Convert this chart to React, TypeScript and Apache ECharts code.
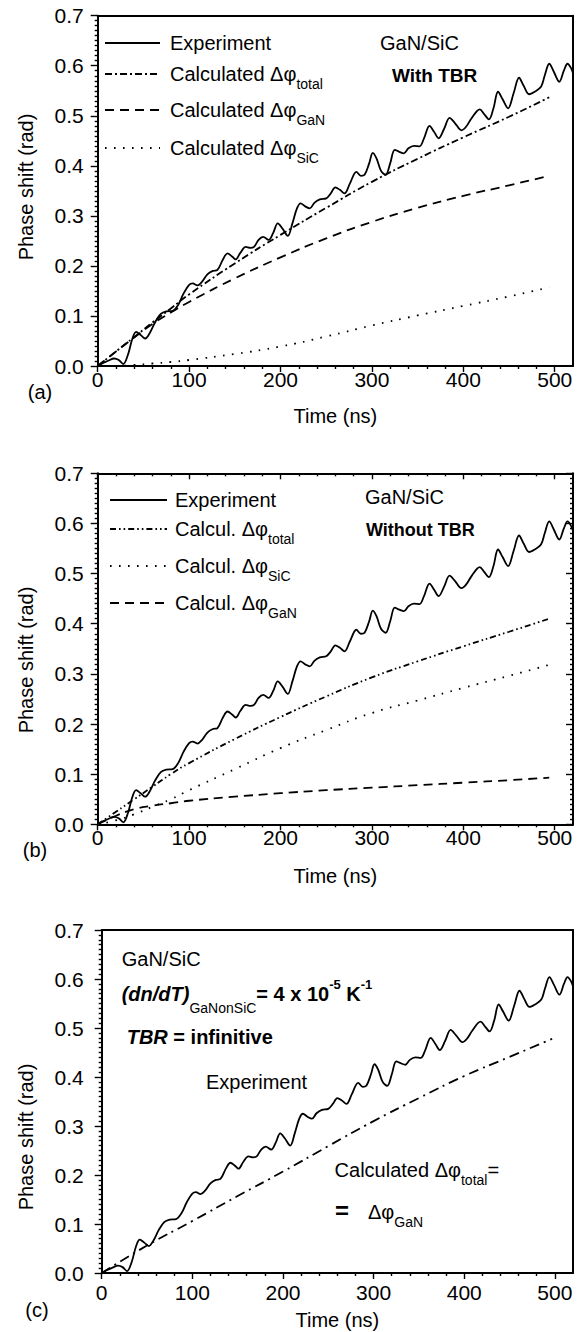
import React, { useEffect, useRef } from "react";
import * as echarts from "echarts";

const FONT = '"Liberation Sans", Arial, Helvetica, sans-serif';
const BLACK = "#000";

// ---------- data ----------
const expTime = [0,6,12,18,23,28,33,38,42,47,52,57,63,69,75,82,88,94,100,104,109,114,120,126,131,137,142,147,151,156,162,167,171,176,181,187,192,197,202,208,213,218,222,227,232,237,243,250,255,260,265,270,276,283,288,292,297,301,305,310,315,320,325,330,335,340,346,352,357,363,368,373,379,385,391,398,403,409,418,423,428,433,438,443,449,455,461,466,472,478,485,489,494,499,505,510,514,518,520];
const expPhase = [0,0.006,0.011,0.015,0.012,0.004,0.022,0.055,0.068,0.062,0.055,0.066,0.088,0.104,0.109,0.11,0.122,0.145,0.162,0.165,0.161,0.168,0.183,0.19,0.192,0.213,0.225,0.219,0.213,0.226,0.238,0.236,0.238,0.252,0.258,0.252,0.266,0.285,0.275,0.26,0.285,0.315,0.325,0.319,0.315,0.326,0.333,0.335,0.345,0.357,0.352,0.345,0.365,0.388,0.38,0.382,0.405,0.426,0.415,0.39,0.382,0.405,0.432,0.428,0.425,0.435,0.44,0.439,0.455,0.48,0.468,0.455,0.474,0.496,0.485,0.471,0.478,0.495,0.513,0.503,0.493,0.515,0.548,0.533,0.515,0.545,0.576,0.56,0.543,0.548,0.558,0.58,0.604,0.588,0.568,0.59,0.604,0.595,0.585];

// (a) with TBR
const calcTimeA = [0, 20, 40, 60, 80, 100, 150, 200, 250, 300, 350, 400, 450, 494];
const totalA = [0, 0.029, 0.058, 0.087, 0.115, 0.143, 0.205, 0.262, 0.316, 0.368, 0.414, 0.457, 0.498, 0.537];
const ganA = [0, 0.029, 0.057, 0.084, 0.107, 0.128, 0.175, 0.217, 0.255, 0.288, 0.316, 0.34, 0.361, 0.38];
const sicA = [0, 0, 0.002, 0.005, 0.008, 0.012, 0.024, 0.039, 0.059, 0.081, 0.101, 0.12, 0.139, 0.157];

// (b) without TBR
const calcTimeB = [0, 20, 40, 60, 80, 100, 150, 200, 250, 300, 350, 400, 450, 494];
const totalB = [0, 0.025, 0.05, 0.075, 0.1, 0.122, 0.17, 0.214, 0.255, 0.293, 0.325, 0.355, 0.384, 0.41];
const sicB = [0, 0.008, 0.02, 0.035, 0.05, 0.068, 0.11, 0.152, 0.188, 0.222, 0.247, 0.272, 0.296, 0.318];
const ganB = [0, 0.017, 0.03, 0.037, 0.042, 0.047, 0.055, 0.062, 0.068, 0.073, 0.078, 0.083, 0.088, 0.093];

// (c) TBR infinitive
const calcTimeC = [0, 50, 100, 150, 200, 250, 300, 350, 400, 450, 497];
const totalC = [0, 0.056, 0.106, 0.157, 0.207, 0.259, 0.31, 0.357, 0.402, 0.441, 0.478];

const xMajorTicks = [0, 100, 200, 300, 400, 500];
const xMinorTicks = [20, 40, 60, 80, 120, 140, 160, 180, 220, 240, 260, 280, 320, 340, 360, 380, 420, 440, 460, 480];
const X_MAX = 520;
const Y_MAX = 0.7;

// ---------- layout ----------
const GRIDS = [
  { left: 97.7, top: 15.7, width: 475.3, height: 350.3 },
  { left: 97.7, top: 473.3, width: 475.3, height: 351 },
  { left: 101.7, top: 930, width: 471.3, height: 343 },
];
const PANEL = [
  { inner: false, xMargin: 3, yMargin: 14, nameGap: 40 },
  { inner: true, xMargin: 3, yMargin: 14, nameGap: 42 },
  { inner: false, xMargin: 9, yMargin: 18, nameGap: 37 },
];

const frameLine = { color: BLACK, width: 2 };
const tickLine = { color: BLACK, width: 1.4 };

function xAxesFor(i: number) {
  const p = PANEL[i];
  const base = {
    gridIndex: i, type: "value", min: 0, max: X_MAX,
    splitLine: { show: false }, minorSplitLine: { show: false },
  };
  return [
    {
      ...base, position: "bottom", interval: 100,
      axisLine: { show: true, onZero: false, lineStyle: frameLine },
      axisTick: { show: true, customValues: xMajorTicks, length: 6, lineStyle: tickLine },
      axisLabel: { show: true, customValues: xMajorTicks, fontSize: 21, color: BLACK, fontFamily: FONT, margin: p.xMargin },
      name: "Time (ns)", nameLocation: "middle", nameGap: p.nameGap,
      nameTextStyle: { fontSize: 20, color: BLACK, fontFamily: FONT },
    },
    {
      ...base, position: "bottom", interval: 20,
      axisLine: { show: false, onZero: false },
      axisLabel: { show: false },
      axisTick: { show: true, customValues: xMinorTicks, length: 3, lineStyle: tickLine },
    },
    {
      ...base, position: "top", interval: 100,
      axisLine: { show: true, onZero: false, lineStyle: frameLine },
      axisLabel: { show: false },
      axisTick: { show: p.inner, inside: true, customValues: xMajorTicks, length: 6, lineStyle: tickLine },
    },
    {
      ...base, position: "top", interval: 20,
      axisLine: { show: false, onZero: false },
      axisLabel: { show: false },
      axisTick: { show: p.inner, inside: true, customValues: xMinorTicks, length: 3, lineStyle: tickLine },
    },
  ];
}

function yAxesFor(i: number) {
  const p = PANEL[i];
  const base = {
    gridIndex: i, type: "value", min: 0, max: Y_MAX, interval: 0.1,
    splitLine: { show: false }, minorSplitLine: { show: false },
  };
  return [
    {
      ...base, position: "left",
      axisLine: { show: true, onZero: false, lineStyle: frameLine },
      axisTick: { show: true, length: 7, lineStyle: tickLine },
      minorTick: { show: true, splitNumber: 10, length: 3, lineStyle: tickLine },
      axisLabel: {
        show: true, fontSize: 21, color: BLACK, fontFamily: FONT, margin: p.yMargin,
        formatter: (v: number) => v.toFixed(1),
      },
    },
    {
      ...base, position: "right",
      axisLine: { show: true, onZero: false, lineStyle: frameLine },
      axisTick: { show: p.inner, inside: true, length: 7, lineStyle: tickLine },
      minorTick: { show: p.inner, splitNumber: 10, length: 3, lineStyle: tickLine },
      axisLabel: { show: false },
    },
  ];
}

function lineSeries(name: string, panel: number, xs: number[], ys: number[], dash: any, smooth: any = true) {
  return {
    type: "line", name, xAxisIndex: panel * 4, yAxisIndex: panel * 2,
    data: xs.map((x, k) => [x, ys[k]]),
    showSymbol: false, symbol: "none", smooth, silent: true, clip: true,
    lineStyle: { color: BLACK, width: 1.8, type: dash, cap: "butt" },
  };
}

// ---------- annotations ----------
const SUB = { fontSize: 14, fontFamily: FONT, padding: [20, 0, 0, 0] };

function txt(x: number, y: number, text: string, o: any = {}) {
  return {
    type: "text", x, y, silent: true, rotation: o.rotation || 0,
    style: {
      text, fill: BLACK, fontSize: o.size || 20, fontFamily: FONT,
      fontWeight: o.weight || "normal", fontStyle: o.fstyle || "normal",
      textAlign: o.align || "left", textVerticalAlign: "middle",
      rich: o.rich || { s: SUB },
    },
  };
}
function sample(x1: number, x2: number, y: number, dash: any) {
  return {
    type: "line", silent: true,
    shape: { x1, y1: y, x2, y2: y },
    style: { stroke: BLACK, lineWidth: 1.8, lineDash: dash },
  };
}

const DASH_A_TOTAL = [7, 3, 2, 3];
const DASH_GAN = [9, 6];
const DOTS = [1.6, 7.4];
const DASH_B_TOTAL = [6, 3, 1.6, 3, 1.6, 3];
const DASH_C_TOTAL = [10, 5, 2, 5];

const yTitle = (y: number) => txt(25.5, y, "Phase shift (rad)", { align: "center", rotation: Math.PI / 2 });

const graphics = [
  // panel (a)
  sample(105, 160, 43, null),
  sample(105, 160, 74, DASH_A_TOTAL),
  sample(105, 160, 110, DASH_GAN),
  sample(105, 160, 148, DOTS),
  txt(170, 43, "Experiment"),
  txt(170, 74, "Calculated \u0394\u03c6{s|total}"),
  txt(170, 110, "Calculated \u0394\u03c6{s|GaN}"),
  txt(170, 148, "Calculated \u0394\u03c6{s|SiC}"),
  txt(380, 43, "GaN/SiC"),
  txt(392, 75, "With TBR", { weight: "bold", size: 19 }),
  txt(40, 392, "(a)", { align: "center" }),
  yTitle(187),
  // panel (b)
  sample(110, 167, 500, null),
  sample(110, 167, 529, DASH_B_TOTAL),
  sample(110, 167, 566, DOTS),
  sample(110, 167, 603, DASH_GAN),
  txt(175, 500, "Experiment"),
  txt(175, 529, "Calcul. \u0394\u03c6{s|total}"),
  txt(175, 566, "Calcul. \u0394\u03c6{s|SiC}"),
  txt(175, 603, "Calcul. \u0394\u03c6{s|GaN}"),
  txt(365, 497, "GaN/SiC"),
  txt(366, 530, "Without TBR", { weight: "bold", size: 18 }),
  txt(35, 850, "(b)", { align: "center" }),
  yTitle(660),
  // panel (c)
  txt(121.7, 959, "GaN/SiC"),
  txt(121.7, 994, "{bi|(dn/dT)}{s|GaNonSiC}{b|= 4 x 10}{sup|-5}{b| K}{sup|-1}", {
    rich: {
      bi: { fontSize: 20, fontFamily: FONT, fontWeight: "bold", fontStyle: "italic" },
      b: { fontSize: 20, fontFamily: FONT, fontWeight: "bold" },
      s: { fontSize: 14, fontFamily: FONT, padding: [28, 0, 0, 0] },
      sup: { fontSize: 13, fontFamily: FONT, fontWeight: "bold", padding: [0, 0, 20, 0] },
    },
  }),
  txt(126.7, 1037, "{bi|TBR}{b| = infinitive}", {
    rich: {
      bi: { fontSize: 20, fontFamily: FONT, fontWeight: "bold", fontStyle: "italic" },
      b: { fontSize: 20, fontFamily: FONT, fontWeight: "bold" },
    },
  }),
  txt(206, 1082, "Experiment"),
  txt(334.6, 1170, "Calculated \u0394\u03c6{s|total}="),
  txt(335, 1210, "=", { weight: "bold", size: 24 }),
  txt(368, 1212, "\u0394\u03c6{s|GaN}"),
  txt(37, 1310, "(c)", { align: "center" }),
  yTitle(1137),
];

export default function App() {
  const ref = useRef<HTMLDivElement>(null);
  useEffect(() => {
    if (!ref.current) return;
    const chart = echarts.init(ref.current, undefined, { renderer: "svg" });
    const option: any = {
      animation: false,
      backgroundColor: "#fff",
      textStyle: { fontFamily: FONT, color: BLACK },
      grid: GRIDS.map((g) => ({ ...g, containLabel: false, outerBoundsMode: "none", show: false })),
      xAxis: [0, 1, 2].flatMap((i) => xAxesFor(i)),
      yAxis: [0, 1, 2].flatMap((i) => yAxesFor(i)),
      series: [
        lineSeries("Experiment (a)", 0, expTime, expPhase, "solid", 0.35),
        lineSeries("Calculated total (a)", 0, calcTimeA, totalA, DASH_A_TOTAL),
        lineSeries("Calculated GaN (a)", 0, calcTimeA, ganA, DASH_GAN),
        lineSeries("Calculated SiC (a)", 0, calcTimeA, sicA, DOTS),
        lineSeries("Experiment (b)", 1, expTime, expPhase, "solid", 0.35),
        lineSeries("Calcul. total (b)", 1, calcTimeB, totalB, DASH_B_TOTAL),
        lineSeries("Calcul. SiC (b)", 1, calcTimeB, sicB, DOTS),
        lineSeries("Calcul. GaN (b)", 1, calcTimeB, ganB, DASH_GAN),
        lineSeries("Experiment (c)", 2, expTime, expPhase, "solid", 0.35),
        lineSeries("Calculated total (c)", 2, calcTimeC, totalC, DASH_C_TOTAL),
      ],
      graphic: { elements: graphics },
    };
    chart.setOption(option);
    return () => chart.dispose();
  }, []);
  return (
    <div
      ref={ref}
      style={{ position: "absolute", left: 0, top: 0, width: 579, height: 1332, background: "#fff" }}
    />
  );
}
